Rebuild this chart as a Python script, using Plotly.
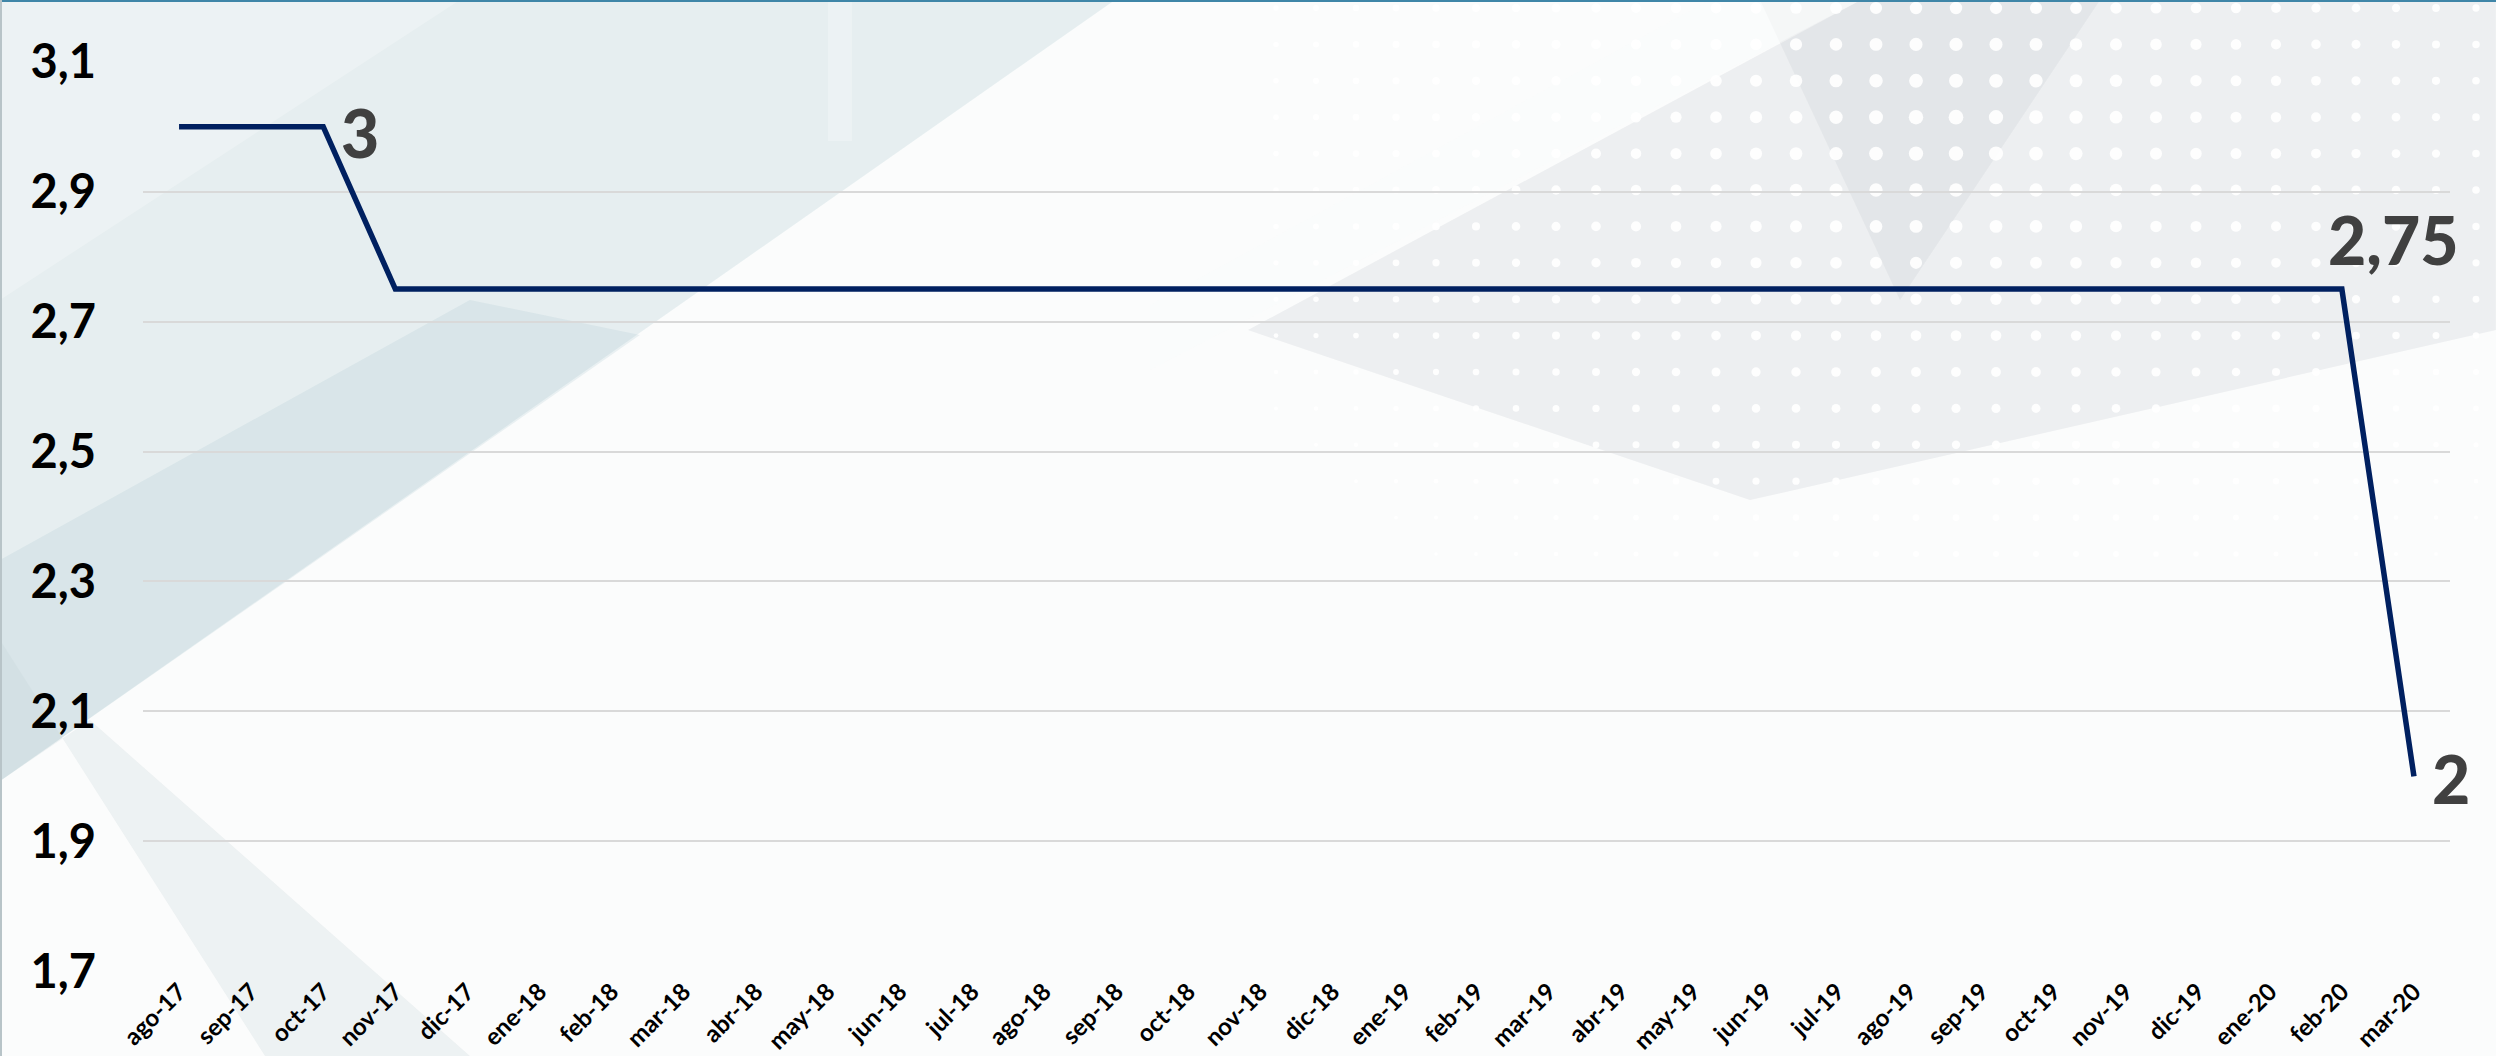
import math
import plotly.graph_objects as go

# Monthly values
months = ['ago-17', 'sep-17', 'oct-17', 'nov-17', 'dic-17', 'ene-18', 'feb-18', 'mar-18',
          'abr-18', 'may-18', 'jun-18', 'jul-18', 'ago-18', 'sep-18', 'oct-18', 'nov-18',
          'dic-18', 'ene-19', 'feb-19', 'mar-19', 'abr-19', 'may-19', 'jun-19', 'jul-19',
          'ago-19', 'sep-19', 'oct-19', 'nov-19', 'dic-19', 'ene-20', 'feb-20', 'mar-20']
values = [3, 3, 3, 2.75, 2.75, 2.75, 2.75, 2.75,
          2.75, 2.75, 2.75, 2.75, 2.75, 2.75, 2.75, 2.75,
          2.75, 2.75, 2.75, 2.75, 2.75, 2.75, 2.75, 2.75,
          2.75, 2.75, 2.75, 2.75, 2.75, 2.75, 2.75, 2]
y_ticks = [1.7, 1.9, 2.1, 2.3, 2.5, 2.7, 2.9, 3.1]

# months that carry a data label
label_months = ['oct-17', 'feb-20', 'mar-20']

W, H = 2496, 1056
L, R, T, B = 143, 46, 61, 84

idx = list(range(len(months)))


def px(x, y):
    # figure pixel -> paper coords
    return (x - L) / (W - L - R), ((H - B) - y) / (H - T - B)


def poly(points):
    pts = [px(x, y) for x, y in points]
    return 'M ' + ' L '.join(f'{a:.4f} {b:.4f}' for a, b in pts) + ' Z'


fig = go.Figure()
fig.add_trace(go.Scatter(
    x=idx, y=values,
    mode='lines',
    line=dict(color='#002060', width=5.5),
    customdata=months,
    hovertemplate='%{customdata}: %{y}<extra></extra>',
))

# data labels
label_style = {
    'oct-17': dict(xanchor='left', yanchor='middle', xshift=16, yshift=-6),
    'feb-20': dict(xanchor='left', yanchor='bottom', xshift=-16, yshift=8),
    'mar-20': dict(xanchor='left', yanchor='middle', xshift=16, yshift=-2),
}
for m in label_months:
    i = months.index(m)
    fig.add_annotation(x=idx[i], y=values[i], text=f"{values[i]:g}".replace('.', ','), showarrow=False,
                       font=dict(family='Lato', size=66, color='#404040', weight=900),
                       **label_style[m])

# decorative background
bg = [
    # teal panels, left
    ([(0, 0), (1115, 0), (0, 781)], 'rgba(200,219,223,0.42)'),
    ([(0, 560), (0, 781), (640, 335), (470, 300)], 'rgba(165,195,203,0.20)'),
    ([(0, 0), (460, 0), (0, 300)], 'rgba(255,255,255,0.25)'),
    ([(828, 0), (852, 0), (852, 141), (828, 141)], 'rgba(255,255,255,0.25)'),
    ([(0, 640), (0, 781), (90, 720), (470, 1056), (265, 1056)], 'rgba(195,212,216,0.25)'),
    # grey panels, top right
    ([(1861, 0), (2496, 0), (2496, 330), (1750, 500), (1248, 330)], 'rgba(205,210,214,0.30)'),
    ([(1760, 0), (2100, 0), (1900, 300)], 'rgba(175,182,188,0.15)'),
    ([(1710, 0), (1861, 0), (1150, 370), (1150, 305)], 'rgba(250,251,251,0.55)'),
]
for pts, col in bg:
    fig.add_shape(type='path', path=poly(pts), xref='paper', yref='paper',
                  fillcolor=col, line=dict(width=0), layer='below')

# dot pattern in the top-right corner
for row in range(16):
    cy = 8 + row * 36.4
    for col in range(31):
        cx = 1276 + col * 40
        d = math.hypot((cx - 1950) / 650, (cy - 130) / 430)
        r = 7.5 * (1.0 - 0.6 * d)
        if r < 1.8:
            continue
        x0, y0 = px(cx - r, cy + r)
        x1, y1 = px(cx + r, cy - r)
        fig.add_shape(type='circle', xref='paper', yref='paper', x0=x0, y0=y0, x1=x1, y1=y1,
                      fillcolor='rgba(255,255,255,0.9)', line=dict(width=0), layer='below')

# thin frame at the top and left
xa, ya = px(0, 1)
xb, _ = px(W, 1)
fig.add_shape(type='line', xref='paper', yref='paper', x0=xa, y0=ya, x1=xb, y1=ya,
              line=dict(color='#3f86a8', width=2), layer='below')
xl, yt = px(1, 0)
_, yb = px(1, H)
fig.add_shape(type='line', xref='paper', yref='paper', x0=xl, y0=yt, x1=xl, y1=yb,
              line=dict(color='#b8c4c8', width=2), layer='below')

fig.update_layout(
    width=W, height=H,
    margin=dict(l=L, r=R, t=T, b=B, autoexpand=False),
    paper_bgcolor='#fbfcfc',
    plot_bgcolor='rgba(0,0,0,0)',
    separators=',.',
    showlegend=False,
    font=dict(family='Lato', color='black'),
    xaxis=dict(
        tickmode='array',
        tickvals=idx,
        ticktext=months,
        range=[-0.5, len(months) - 0.5],
        tickangle=-45,
        tickfont=dict(family='Lato', size=24, color='black', weight='bold'),
        showgrid=False, showline=False, zeroline=False, ticks='',
        automargin=False,
    ),
    yaxis=dict(
        range=[1.699, 3.101],
        tickvals=y_ticks,
        tickformat='.1f',
        tickfont=dict(family='Lato', size=47, color='black', weight='bold'),
        ticklabelstandoff=46,
        showgrid=True, gridcolor='#d9d9d9', gridwidth=2,
        zeroline=False, showline=False, ticks='',
        automargin=False,
    ),
)

# the page's default body margin would push the figure off the window
fig.write_html('out.html', config={'displayModeBar': False},
               post_script="document.body.style.margin='0';")
